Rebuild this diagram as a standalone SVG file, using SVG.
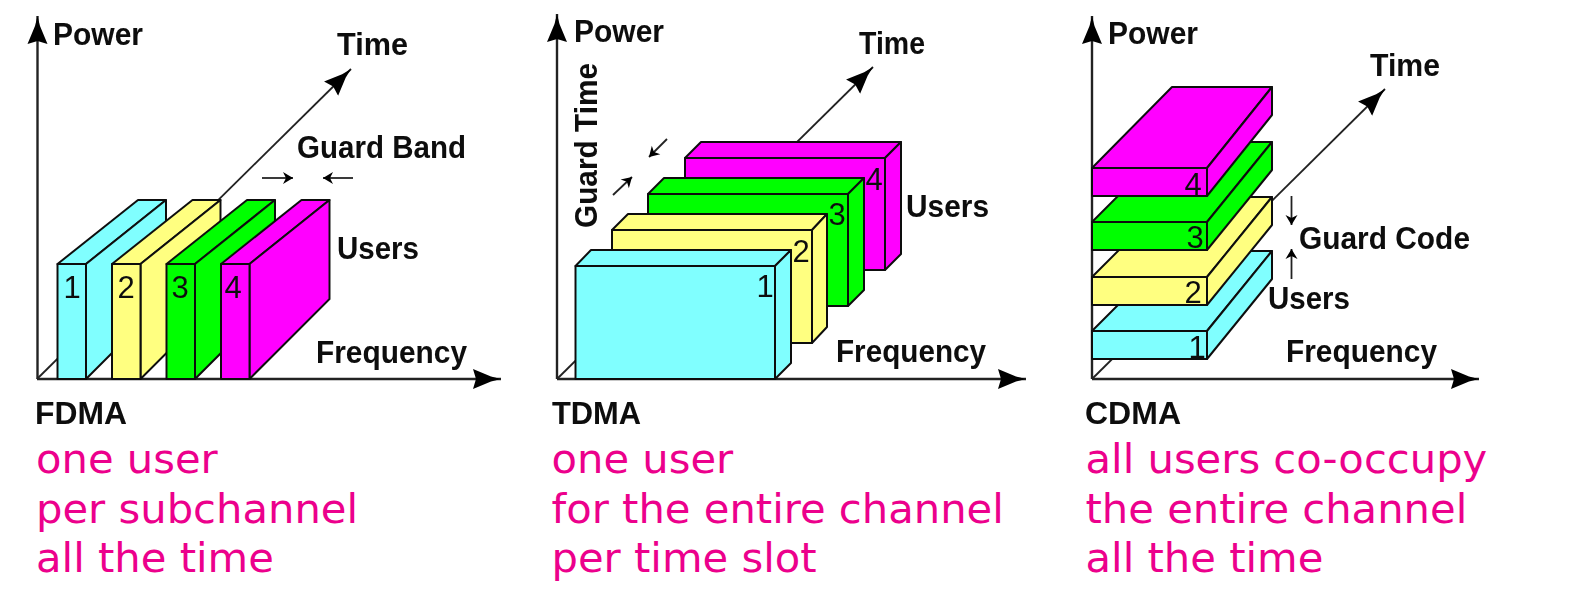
<svg xmlns="http://www.w3.org/2000/svg" width="1571" height="608" viewBox="0 0 1571 608">
<style>
.ax{fill:none;stroke:#222;stroke-width:2.4}
.thin{fill:none;stroke:#222;stroke-width:1.8}
.hd{fill:#000;stroke:none}
.f{stroke:#111;stroke-width:2;stroke-linejoin:round}
.c{fill:#80FFFF}.y{fill:#FFFF80}.g{fill:#00FF00}.m{fill:#FF00FF}
.b{font-family:"Liberation Sans",Arial,sans-serif;font-weight:700;font-size:30.500px;fill:#0a0a0a}
.n{font-family:"Liberation Sans",Arial,sans-serif;font-size:31px;fill:#111;text-anchor:middle}
.p{font-family:"DejaVu Sans",Verdana,sans-serif;font-size:41.700px;fill:#EC008C}
</style>
<defs>
<filter id="soft" x="-5%" y="-5%" width="110%" height="110%"><feGaussianBlur stdDeviation="0.5"/></filter>
<marker id="big" markerUnits="userSpaceOnUse" markerWidth="30" markerHeight="22" refX="28" refY="11" orient="auto"><path class="hd" d="M0 1L3 11L0 21L18 13.500L28 11L18 8.500Z"/></marker>
<marker id="small" markerUnits="userSpaceOnUse" markerWidth="13" markerHeight="14" refX="11" refY="7" orient="auto"><path class="hd" d="M1 1L11 7L1 13L4 7Z"/></marker>
</defs>
<g filter="url(#soft)">
<g id="connectors">
<line class="ax" x1="37.500" y1="379" x2="37.500" y2="16" marker-end="url(#big)"/>
<line class="ax" x1="37" y1="379" x2="501" y2="379" marker-end="url(#big)"/>
<line class="thin" x1="37" y1="379" x2="351" y2="69" marker-end="url(#big)"/>
<line class="thin" x1="262" y1="178" x2="293" y2="178" marker-end="url(#small)"/>
<line class="thin" x1="353" y1="178" x2="323" y2="178" marker-end="url(#small)"/>
<line class="ax" x1="557" y1="379" x2="557" y2="14" marker-end="url(#big)"/>
<line class="ax" x1="557" y1="379" x2="1026" y2="379" marker-end="url(#big)"/>
<line class="thin" x1="557" y1="379" x2="873" y2="67" marker-end="url(#big)"/>
<line class="thin" x1="613" y1="195" x2="632" y2="177" marker-end="url(#small)"/>
<line class="thin" x1="667" y1="139" x2="649" y2="157" marker-end="url(#small)"/>
<line class="ax" x1="1092" y1="379" x2="1092" y2="16" marker-end="url(#big)"/>
<line class="ax" x1="1092" y1="379" x2="1479" y2="379" marker-end="url(#big)"/>
<line class="thin" x1="1092" y1="379" x2="1385" y2="89" marker-end="url(#big)"/>
<line class="thin" x1="1291.500" y1="196" x2="1291.500" y2="225" marker-end="url(#small)"/>
<line class="thin" x1="1291.500" y1="279" x2="1291.500" y2="249" marker-end="url(#small)"/>
</g>
<g id="fdma-1"><path class="f c" d="M57.500 264L138 200H166L86 264Z"/><path class="f c" d="M86 264L166 200V299L86 379Z"/><rect class="f c" x="57.500" y="264" width="28.500" height="115"/><text class="n" x="72" y="298">1</text></g>
<g id="fdma-2"><path class="f y" d="M112 264L192.500 200H220.500L140.500 264Z"/><path class="f y" d="M140.500 264L220.500 200V299L140.500 379Z"/><rect class="f y" x="112" y="264" width="28.500" height="115"/><text class="n" x="126" y="298">2</text></g>
<g id="fdma-3"><path class="f g" d="M166.500 264L247 200H275L195 264Z"/><path class="f g" d="M195 264L275 200V299L195 379Z"/><rect class="f g" x="166.500" y="264" width="28.500" height="115"/><text class="n" x="180" y="298">3</text></g>
<g id="fdma-4"><path class="f m" d="M221 264L301.500 200H329.500L249.500 264Z"/><path class="f m" d="M249.500 264L329.500 200V299L249.500 379Z"/><rect class="f m" x="221" y="264" width="28.500" height="115"/><text class="n" x="233" y="298">4</text></g>
<g id="tdma-4"><path class="f m" d="M685 158L701 142H901L885 158Z"/><path class="f m" d="M885 158L901 142V254L885 270Z"/><rect class="f m" x="685" y="158" width="200" height="112"/><text class="n" x="874" y="190">4</text></g>
<g id="tdma-3"><path class="f g" d="M648 194L664 178H864L848 194Z"/><path class="f g" d="M848 194L864 178V290L848 306Z"/><rect class="f g" x="648" y="194" width="200" height="112"/><text class="n" x="837" y="225">3</text></g>
<g id="tdma-2"><path class="f y" d="M612 230L628 214H827L812 230Z"/><path class="f y" d="M812 230L827 214V327L812 343Z"/><rect class="f y" x="612" y="230" width="200" height="113"/><text class="n" x="801" y="262">2</text></g>
<g id="tdma-1"><path class="f c" d="M575.500 266L591 250H791L775 266Z"/><path class="f c" d="M775 266L791 250V363L775 379Z"/><rect class="f c" x="575.500" y="266" width="199.500" height="113"/><text class="n" x="765" y="297">1</text></g>
<g id="cdma-1"><path class="f c" d="M1092 331L1172 251H1272L1207 331Z"/><path class="f c" d="M1207 331L1272 251V279L1207 359Z"/><rect class="f c" x="1092" y="331" width="115" height="28"/><text class="n" x="1197" y="358">1</text></g>
<g id="cdma-2"><path class="f y" d="M1092 277L1172 197H1272L1207 277Z"/><path class="f y" d="M1207 277L1272 197V225L1207 305Z"/><rect class="f y" x="1092" y="277" width="115" height="28"/><text class="n" x="1193" y="303">2</text></g>
<g id="cdma-3"><path class="f g" d="M1092 222L1172 142H1272L1207 222Z"/><path class="f g" d="M1207 222L1272 142V170L1207 250Z"/><rect class="f g" x="1092" y="222" width="115" height="28"/><text class="n" x="1195" y="248">3</text></g>
<g id="cdma-4"><path class="f m" d="M1092 168L1172 87H1272L1207 168Z"/><path class="f m" d="M1207 168L1272 87V115L1207 196Z"/><rect class="f m" x="1092" y="168" width="115" height="28"/><text class="n" x="1193" y="195">4</text></g>
<g id="fdma-labels">
<text class="b" x="53" y="45" textLength="90" lengthAdjust="spacingAndGlyphs">Power</text><text class="b" x="337" y="55" textLength="71" lengthAdjust="spacingAndGlyphs">Time</text><text class="b" x="297" y="158" textLength="169" lengthAdjust="spacingAndGlyphs">Guard Band</text><text class="b" x="337" y="259" textLength="82" lengthAdjust="spacingAndGlyphs">Users</text><text class="b" x="316" y="363" textLength="151" lengthAdjust="spacingAndGlyphs">Frequency</text>
<text class="b" x="35" y="424" textLength="92" lengthAdjust="spacingAndGlyphs">FDMA</text></g>
<g id="tdma-labels">
<text class="b" x="574" y="42" textLength="90" lengthAdjust="spacingAndGlyphs">Power</text><text class="b" x="859" y="54" textLength="66" lengthAdjust="spacingAndGlyphs">Time</text><text class="b" x="906" y="217" textLength="83" lengthAdjust="spacingAndGlyphs">Users</text><text class="b" x="836" y="362" textLength="150" lengthAdjust="spacingAndGlyphs">Frequency</text>
<text class="b" transform="translate(597 228) rotate(-90)" textLength="165" lengthAdjust="spacingAndGlyphs">Guard Time</text>
<text class="b" x="552" y="424" textLength="89" lengthAdjust="spacingAndGlyphs">TDMA</text></g>
<g id="cdma-labels">
<text class="b" x="1108" y="44" textLength="90" lengthAdjust="spacingAndGlyphs">Power</text><text class="b" x="1370" y="76" textLength="70" lengthAdjust="spacingAndGlyphs">Time</text><text class="b" x="1299" y="249" textLength="171" lengthAdjust="spacingAndGlyphs">Guard Code</text><text class="b" x="1268" y="309" textLength="82" lengthAdjust="spacingAndGlyphs">Users</text><text class="b" x="1286" y="362" textLength="151" lengthAdjust="spacingAndGlyphs">Frequency</text>
<text class="b" x="1085" y="424" textLength="96" lengthAdjust="spacingAndGlyphs">CDMA</text></g>
</g>
<g id="captions">
<text class="p" x="36" y="473">one user</text><text class="p" x="36" y="523">per subchannel</text><text class="p" x="36" y="572">all the time</text>
<text class="p" x="551.500" y="473">one user</text><text class="p" x="551.500" y="523">for the entire channel</text><text class="p" x="551.500" y="572">per time slot</text>
<text class="p" x="1085.500" y="473">all users co-occupy</text><text class="p" x="1085.500" y="523">the entire channel</text><text class="p" x="1085.500" y="572">all the time</text>
</g>
</svg>
